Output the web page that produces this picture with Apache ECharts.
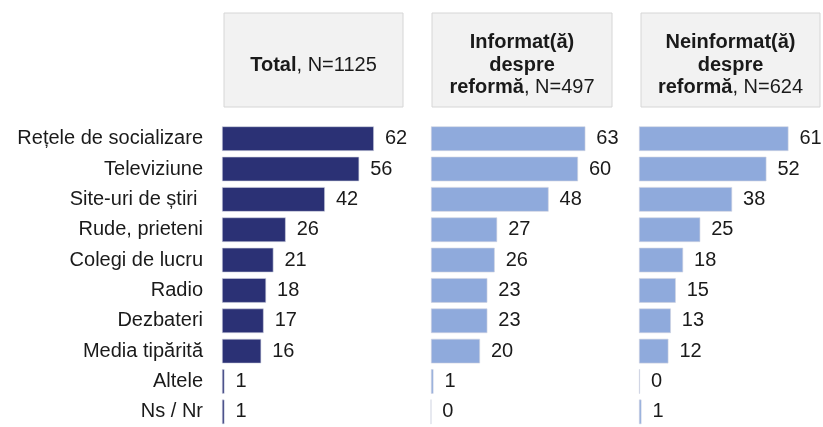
<!DOCTYPE html>
<html>
<head>
<meta charset="utf-8">
<script src="https://cdn.jsdelivr.net/npm/echarts@6/dist/echarts.min.js"></script>
<style>html,body{margin:0;padding:0;background:#fff;}#c{width:823px;height:427px;}</style>
</head>
<body>
<div id="c"></div>
<script>
const categories = ['Rețele de socializare','Televiziune','Site-uri de știri ','Rude, prieteni','Colegi de lucru','Radio','Dezbateri','Media tipărită','Altele','Ns / Nr'];
const totalValues = [62,56,42,26,21,18,17,16,1,1];
const informatValues = [63,60,48,27,26,23,23,20,1,0];
const neinformatValues = [61,52,38,25,18,15,13,12,0.4,1];
const panelHeaders = [
  '{b|Total}{n|, N=1125}',
  '{b|Informat(ă)}\n{b|despre}\n{b|reformă}{n|, N=497}',
  '{b|Neinformat(ă)}\n{b|despre}\n{b|reformă}{n|, N=624}'
];
const panelColors = ['#2B3175','#8FAADC','#8FAADC'];
const seriesData = [totalValues, informatValues, neinformatValues];

const FONT = 'Liberation Sans, Arial, sans-serif';
const lefts = [222, 431, 639];
const boxes = [[224,179],[432,180],[641,179]];
const chart = echarts.init(document.getElementById('c'));

const grids = lefts.map(l => ({left: l, top: 123.5, width: 171.5, height: 310, containLabel: false}));
const xAxes = lefts.map((l,i) => ({gridIndex: i, type: 'value', min: 0, max: 70, show: false}));
const yAxes = lefts.map((l,i) => ({
  gridIndex: i, type: 'category', data: categories, inverse: true,
  axisLine: {show: false}, axisTick: {show: false}, splitLine: {show: false},
  axisLabel: {show: i === 0, margin: 19, fontSize: 20, color: '#1a1a1a', fontFamily: FONT}
}));
const series = seriesData.map((d,i) => ({
  type: 'bar', xAxisIndex: i, yAxisIndex: i, data: d,
  barCategoryGap: '19%',
  itemStyle: {color: panelColors[i], borderColor: '#d0d4e0', borderWidth: 0.6},
  label: {show: true, position: 'right', distance: 11, fontSize: 20, color: '#1a1a1a', fontFamily: FONT,
    formatter: p => String(Math.round(p.value))},
  silent: true, animation: false
}));

const graphic = boxes.map((b,i) => ({
  type: 'group', children: [
    {type: 'rect', shape: {x: b[0], y: 13, width: b[1], height: 94},
     style: {fill: '#F2F2F2', stroke: '#D6D6D6', lineWidth: 1}},
    {type: 'text', x: b[0] + b[1]/2, y: 65,
     style: {text: panelHeaders[i], align: 'center', verticalAlign: 'middle',
       rich: {
         b: {fontSize: 20, fontWeight: 'bold', fontFamily: FONT, fill: '#1a1a1a', lineHeight: 22.5},
         n: {fontSize: 20, fontFamily: FONT, fill: '#1a1a1a', lineHeight: 22.5}
       }}}
  ]
}));

chart.setOption({
  animation: false,
  grid: grids, xAxis: xAxes, yAxis: yAxes, series: series, graphic: graphic
});
</script>
</body>
</html>
